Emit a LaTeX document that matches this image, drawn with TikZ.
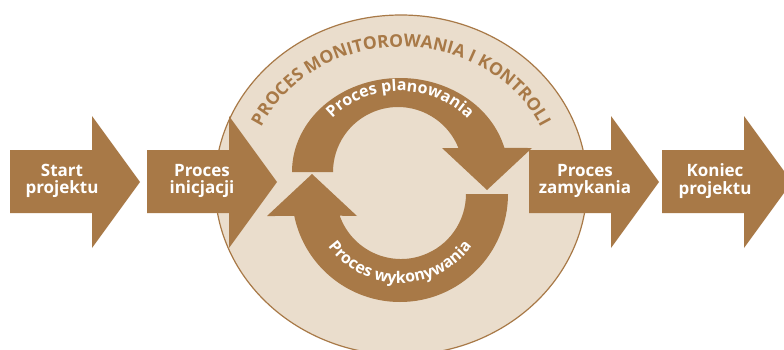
\documentclass[tikz,border=0pt]{standalone}
\usepackage{fontspec}
\setmainfont{Open Sans}
\usetikzlibrary{decorations.text}
\definecolor{brownc}{RGB}{168,121,71}
\definecolor{beigec}{RGB}{234,221,204}
\begin{document}
\begin{tikzpicture}[x=1pt,y=1pt,
  lbl/.style={text=white, font=\bfseries\fontsize{17}{17.6}\selectfont, align=center, inner sep=0pt},
  blk/.style={fill=brownc, draw=none}]
\useasboundingbox (0,0) rectangle (784,349);
\clip (0,0) rectangle (784,349);
\fill[white] (0,0) rectangle (784,349);
% monitoring ellipse
\filldraw[fill=beigec, draw=brownc, line width=1.2pt] (401,164) ellipse [x radius=186, y radius=170];
\path[decorate, decoration={text along path, text align=center, text color=brownc,
  text={|\bfseries\fontsize{17.5}{17.5}\selectfont|PROCES MONITOROWANIA I KONTROLI}}]
  (401,164) ++(170:154 and 138) arc[start angle=170, end angle=10, x radius=154, y radius=138];
% upper ring arrow
\fill[brownc] (292,177) arc[start angle=180, end angle=14.8, x radius=108, y radius=94]
  -- (532,201) -- (487,159) -- (442,201) -- (458.4,201)
  arc[start angle=21.7, end angle=180, radius=65] -- cycle;
\path[decorate, decoration={text along path, text align=center, text color=white,
  text={|\bfseries\fontsize{16}{16}\selectfont|Proces planowania}}]
  (400,177) ++(170:90 and 81) arc[start angle=170, end angle=10, x radius=90, y radius=81];
% lower ring arrow
\fill[brownc] (508,155) arc[start angle=0, end angle=-168.25, radius=108]
  -- (267,133) -- (312,175) -- (357,133) -- (339.7,133.3)
  arc[start angle=-160.5, end angle=0, radius=65] -- cycle;
\path[decorate, decoration={text along path, text align=center, text color=white,
  text={|\bfseries\fontsize{16}{16}\selectfont|Proces wykonywania}}]
  (400,155) ++(185:89) arc[start angle=185, end angle=355, radius=89];
% block arrows
\foreach \L in {10,147,529,662}{
  \fill[brownc] (\L,136) -- ({\L+82},136) -- ({\L+82},101) -- ({\L+130},167)
    -- ({\L+82},233) -- ({\L+82},199) -- (\L,199) -- cycle;
}
\node[lbl] (start) at (62,168) {Start\\projektu};
\node[lbl] (inic) at (202,168) {Proces\\inicjacji};
\node[lbl] (zamyk) at (585,168) {Proces\\zamykania};
\node[lbl] (koniec) at (715,168) {Koniec\\projektu};
\end{tikzpicture}
\end{document}
